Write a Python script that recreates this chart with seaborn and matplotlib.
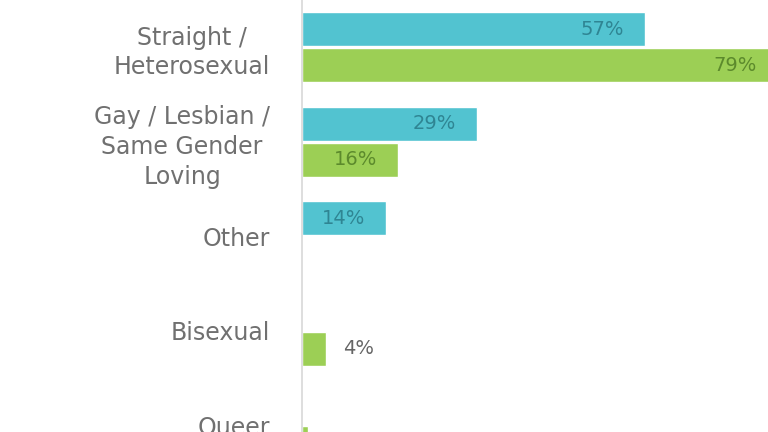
import pandas as pd
import seaborn as sns
import matplotlib.pyplot as plt

# Data (bars missing in the picture are left out)
categories = ["Straight /\nHeterosexual", "Gay / Lesbian /\nSame Gender\nLoving",
              "Other", "Bisexual", "Queer"]
series = ["Group A", "Group B"]
group_a = {"Straight /\nHeterosexual": 57, "Gay / Lesbian /\nSame Gender\nLoving": 29, "Other": 14}
group_b = {"Straight /\nHeterosexual": 79, "Gay / Lesbian /\nSame Gender\nLoving": 16,
           "Bisexual": 4, "Queer": 1}

bar_colors = ["#52c3d0", "#9ccf55"]
label_colors = ["#2f8593", "#5c8a2c"]

rows = []
for name, vals in zip(series, [group_a, group_b]):
    for cat, v in vals.items():
        rows.append({"category": cat, "series": name, "value": v})
df = pd.DataFrame(rows)

sns.set_style("white")
plt.rcParams["font.family"] = ["DejaVu Sans"]

fig = plt.figure(figsize=(7.68, 4.32), dpi=100)
ax = fig.add_axes([302 / 768, 0, 466 / 768, 1])

sns.barplot(data=df, y="category", x="value", hue="series", order=categories,
            hue_order=series, palette=bar_colors, orient="h", width=0.76, gap=0.06,
            saturation=1, legend=False, ax=ax)

ax.set_xlim(0, 77.4)
ax.set_ylim(4.07, -0.5)
ax.set_xlabel("")
ax.set_ylabel("")
ax.set_xticks([])

for lbl in ax.get_yticklabels():
    lbl.set_multialignment("center")
    lbl.set_linespacing(1.3)
ax.tick_params(axis="y", length=0, pad=23, labelsize=17, labelcolor="#707070")

for sp in ["top", "right", "bottom"]:
    ax.spines[sp].set_visible(False)
ax.spines["left"].set_color("#d8d8d8")
ax.spines["left"].set_linewidth(1.2)

# value labels: inside the end of long bars, outside short ones
for i, cont in enumerate(ax.containers):
    for bar in cont:
        w = bar.get_width()
        if not w or w != w:
            continue
        y = bar.get_y() + bar.get_height() / 2
        if w >= 10:
            ax.annotate(f"{w:.0f}%", (w, y), xytext=(-15, 0), textcoords="offset points",
                        ha="right", va="center", fontsize=14, color=label_colors[i],
                        annotation_clip=False)
        else:
            ax.annotate(f"{w:.0f}%", (w, y), xytext=(12, 0), textcoords="offset points",
                        ha="left", va="center", fontsize=14, color="#666666",
                        annotation_clip=False)

fig.savefig("out.png", dpi=100)
